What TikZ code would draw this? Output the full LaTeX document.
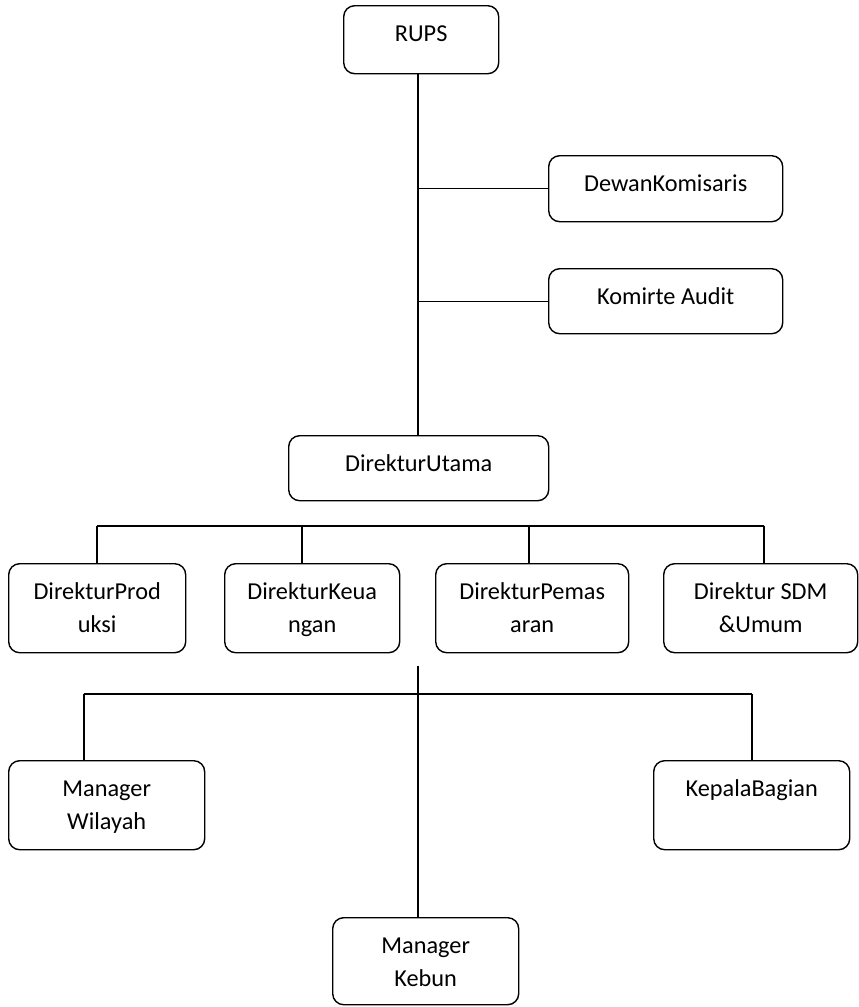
\documentclass[tikz,border=0pt]{standalone}
\usepackage{fontspec}
\setmainfont{Carlito}
\newcommand{\bxt}[3]{\begin{minipage}[t][#2][t]{#1}\centering\rule{0pt}{36pt}#3\end{minipage}}
\begin{document}
\begin{tikzpicture}[x=1pt,y=-1pt,
  box/.style={draw, line width=1.4pt, rounded corners=11pt, inner sep=0pt, anchor=north west, font=\fontsize{24.3}{33}\selectfont},
  conn/.style={line width=1.4pt}]
\useasboundingbox[fill=white] (0,0) rectangle (859,1007);

\node[box] (rups)   at (343,5)   {\bxt{155pt}{68pt}{RUPS}};
\node[box] (dewan)  at (548,155) {\bxt{234pt}{66pt}{DewanKomisaris}};
\node[box] (komite) at (548,268) {\bxt{234pt}{65pt}{Komirte Audit}};
\node[box] (utama)  at (288,435) {\bxt{260pt}{65pt}{DirekturUtama}};

\node[box] (prod) at (8,563)   {\bxt{177pt}{89pt}{DirekturProd\\uksi}};
\node[box] (keu)  at (224,563) {\bxt{175pt}{89pt}{DirekturKeua\\ngan}};
\node[box] (pem)  at (435,563) {\bxt{193pt}{89pt}{DirekturPemas\\aran}};
\node[box] (sdm)  at (663,563) {\bxt{194pt}{89pt}{Direktur SDM\\\&Umum}};

\node[box] (wil)   at (8,760)   {\bxt{196pt}{89pt}{Manager\\Wilayah}};
\node[box] (kep)   at (653,760) {\bxt{196pt}{89pt}{KepalaBagian}};
\node[box] (kebun) at (332,917) {\bxt{186pt}{87pt}{Manager\\Kebun}};

% spine
\coordinate (sp) at (418,300);
\draw[conn] (rups.south -| sp) -- (utama.north -| sp);
\draw[conn] (dewan.west) -- (dewan.west -| sp);
\draw[conn] (komite.west) -- (komite.west -| sp);

% director bus
\coordinate (d1) at (97,526);
\coordinate (d2) at (302,526);
\coordinate (d3) at (529,526);
\coordinate (d4) at (764,526);
\draw[conn] (d1) -- (d4);
\draw[conn] (d1) -- (d1 |- prod.north);
\draw[conn] (d2) -- (d2 |- keu.north);
\draw[conn] (d3) -- (d3 |- pem.north);
\draw[conn] (d4) -- (d4 |- sdm.north);

% lower part
\coordinate (t) at (418,666);
\draw[conn] (t) -- (t |- kebun.north);
\coordinate (m1) at (84,694);
\coordinate (m2) at (752,694);
\draw[conn] (m1) -- (m2);
\draw[conn] (m1) -- (m1 |- wil.north);
\draw[conn] (m2) -- (m2 |- kep.north);
\end{tikzpicture}
\end{document}
